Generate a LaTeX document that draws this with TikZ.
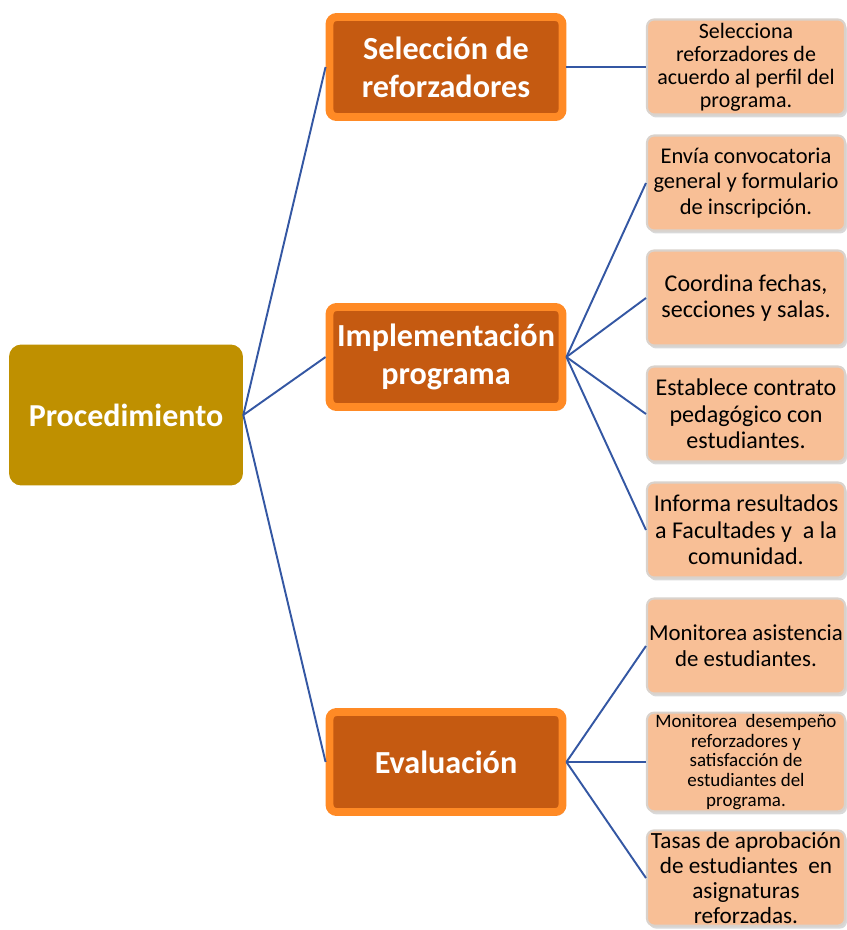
\documentclass[tikz,border=0pt]{standalone}
\usepackage{fontspec}
\setmainfont{Carlito}
\usetikzlibrary{shadows}
\definecolor{rootgold}{HTML}{BF9000}
\definecolor{stagefill}{HTML}{C55A11}
\definecolor{stagering}{HTML}{FF8A25}
\definecolor{taskfill}{HTML}{F8BF96}
\definecolor{taskedge}{HTML}{D9D2CC}
\definecolor{linkblue}{HTML}{3457A3}

\begin{document}
\begin{tikzpicture}[x=0.02cm,y=-0.02cm,
    link/.style={draw=linkblue, line width=1.1pt},
    rootbox/.style={fill=rootgold, rounded corners=7pt, minimum width=4.68cm,
        minimum height=2.82cm, text=white, font=\fontsize{18.2}{21}\selectfont\bfseries},
    stagebox/.style={fill=stagefill, draw=stagering, line width=4.5pt, rounded corners=4pt,
        minimum width=4.66cm, minimum height=2cm, align=center, text=white,
        font=\fontsize{18.3}{21.5}\selectfont\bfseries,
        drop shadow={opacity=0.25, shadow xshift=0.05cm, shadow yshift=-0.07cm}},
    taskbox/.style={fill=taskfill, draw=taskedge, line width=1.2pt, rounded corners=4pt,
        minimum width=3.96cm, minimum height=1.9cm, align=center,
        inner sep=1pt, font=\fontsize{13.7}{15}\selectfont,
        drop shadow={opacity=0.3, shadow xshift=0.04cm, shadow yshift=-0.06cm}}]
    \useasboundingbox (0,0) rectangle (847,930);

    % raiz
    \node[rootbox] (proc) at (126,415) {Procedimiento};

    % etapas
    \node[stagebox] (sel) at (446,67) {Selección de\\reforzadores};
    \node[stagebox] (impl) at (446,357) {Implementación\\programa};
    \node[stagebox] (eval) at (446,762) {Evaluación};

    % tareas
    \node[taskbox, font=\fontsize{12.5}{13}\selectfont] (t1) at (746,67)
        {Selecciona\\reforzadores de\\acuerdo al perfil del\\programa.};
    \node[taskbox, font=\fontsize{12.8}{14.5}\selectfont] (t2) at (746,183)
        {Envía convocatoria\\general y formulario\\de inscripción.};
    \node[taskbox] (t3) at (746,298) {Coordina fechas,\\secciones y salas.};
    \node[taskbox] (t4) at (746,414) {Establece contrato\\pedagógico con\\estudiantes.};
    \node[taskbox] (t5) at (746,530) {Informa resultados\\a Facultades y\ \ a la\\comunidad.};
    \node[taskbox, font=\fontsize{13}{15}\selectfont] (t6) at (746,646)
        {Monitorea asistencia\\de estudiantes.};
    \node[taskbox, font=\fontsize{10.8}{11.2}\selectfont] (t7) at (746,762)
        {Monitorea\ \ desempeño\\reforzadores y\\satisfacción de\\estudiantes del\\programa.};
    \node[taskbox, font=\fontsize{13.2}{14.3}\selectfont] (t8) at (746,878)
        {Tasas de aprobación\\de estudiantes\ \ en\\asignaturas\\reforzadas.};

    % conectores
    \foreach \s in {sel,impl,eval}
        \draw[link] (proc.east) -- (\s.west);
    \draw[link] (sel.east) -- (t1.west);
    \foreach \t in {t2,t3,t4,t5}
        \draw[link] (impl.east) -- (\t.west);
    \foreach \t in {t6,t7,t8}
        \draw[link] (eval.east) -- (\t.west);
\end{tikzpicture}
\end{document}
